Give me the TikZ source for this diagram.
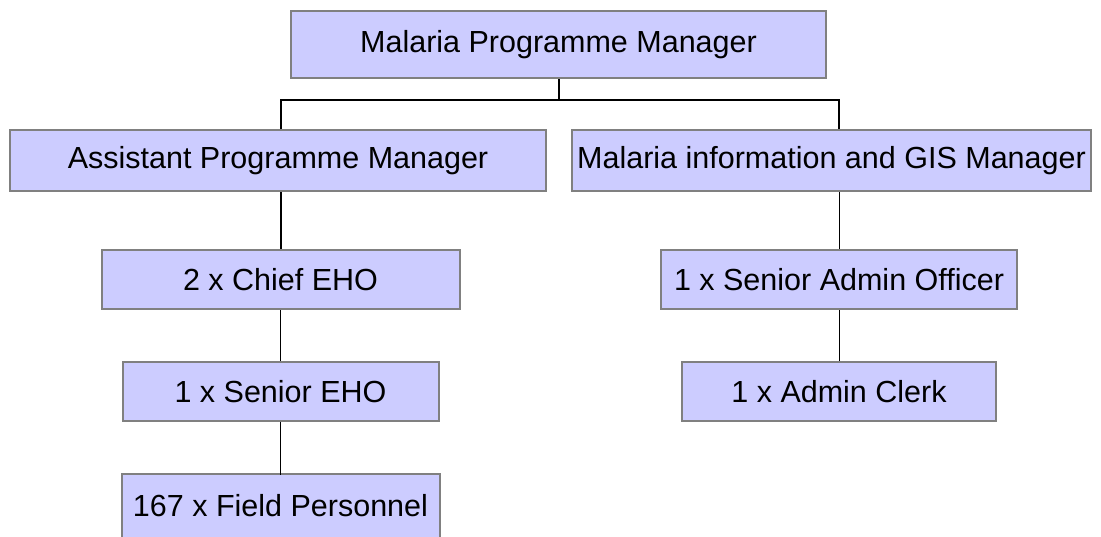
\documentclass[tikz,border=0pt]{standalone}
\usepackage{fontspec}
\setmainfont{Liberation Sans}
\usetikzlibrary{backgrounds}
\definecolor{boxfill}{HTML}{CCCCFF}
\definecolor{boxline}{HTML}{808080}
\tikzset{
  orgbox/.style={draw=boxline, fill=boxfill, line width=2pt, inner sep=0pt,
    font=\fontsize{30.5}{36}\selectfont, text=black},
  boxframe/.style={draw=boxline, fill=boxfill, line width=2pt},
  thickconn/.style={draw=black, line width=2pt},
  thinconn/.style={draw=black, line width=1pt}
}
\begin{document}
\begin{tikzpicture}[x=1pt,y=-1pt]
\useasboundingbox (0,0) rectangle (1101,537);
\clip (0,0) rectangle (1101,537);
\node[orgbox, minimum width=535pt, minimum height=67pt] (top) at (558.5,45) {Malaria Programme Manager};
\node[orgbox, minimum width=536pt, minimum height=61pt] (apm) at (278,161) {Assistant Programme Manager};
\node[orgbox, minimum width=519pt, minimum height=61pt] (gis) at (831.5,161) {Malaria information and GIS Manager};
\node[orgbox, minimum width=358pt, minimum height=59pt] (chief) at (280.5,280) {2 x Chief EHO};
\node[orgbox, minimum width=316pt, minimum height=58pt] (seho) at (280.5,391.5) {1 x Senior EHO};
\node[orgbox, draw=none, fill=none, minimum width=316pt, minimum height=62pt] (field) at (280.5,506) {167 x Field Personnel};
\begin{scope}[on background layer]
\clip (0,0) rectangle (1101,537);
\draw[boxframe] (field.north west) rectangle ([yshift=-12pt]field.south east);
\end{scope}
\node[orgbox, minimum width=356pt, minimum height=59pt] (sao) at (839,280) {1 x Senior Admin Officer};
\node[orgbox, minimum width=314pt, minimum height=58pt] (clerk) at (839,391.5) {1 x Admin Clerk};
\coordinate (bus) at (558.5,100);
\draw[thickconn] (top.south) -- (bus);
\draw[thickconn] (apm.north -| chief.north) |- (bus) -| (gis.north -| sao.north);
\draw[thickconn] (apm.south -| chief.north) -- (chief.north);
\draw[thinconn] (chief.south) -- (seho.north);
\draw[thinconn] (seho.south) -- ([yshift=-1pt]field.north);
\draw[thinconn] (gis.south -| sao.north) -- (sao.north);
\draw[thinconn] (sao.south) -- (clerk.north);
\end{tikzpicture}
\end{document}
